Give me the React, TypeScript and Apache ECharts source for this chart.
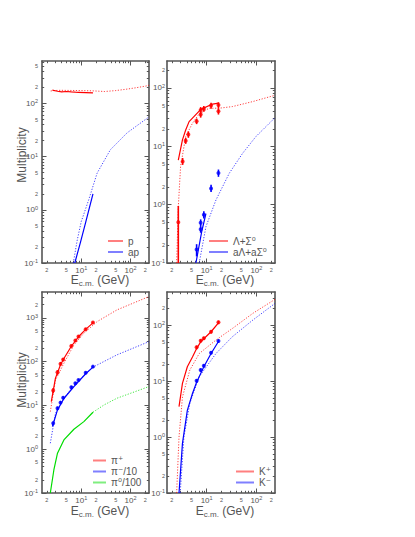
import React, { useEffect, useRef } from 'react';
import * as echarts from 'echarts';

const L = Math.log10;

// ---------- data ----------
// top-left: protons / antiprotons
const pSolidX = [2.6, 3.3, 4.0, 5.0, 6.3, 7.6, 8.8, 12.3, 17.3];
const pSolidY = [178, 170, 165, 168, 165, 163, 162, 160, 158];
const pDotX = [2.4, 3, 4, 6, 10, 17, 30, 50, 80, 130, 200, 237];
const pDotY = [172, 176, 177, 176, 175, 173, 168, 175, 185, 198, 212, 220];
const apSolidX = [7.4, 9.7, 12.3, 17.3];
const apSolidY = [0.1, 0.25, 0.58, 2.0];
const apDotX = [6.9, 8.3, 10, 14.2, 21, 39, 85, 237];
const apDotY = [0.1, 0.27, 0.6, 1.55, 4.9, 13.5, 28, 56];

// top-right: Lambda + Sigma0
const lamSolidX = [2.7, 3.27, 3.8, 4.45, 7.66, 13.2, 17.3];
const lamSolidY = [5.8, 12.9, 19, 26.5, 43, 53, 55];
const lamDotX = [2.5, 2.7, 3.0, 3.8, 5.2, 7.1, 11.2, 18, 33, 85, 237];
const lamDotY = [0.1, 0.92, 4.5, 14.7, 24.9, 36, 45, 45, 48, 58.5, 75];
const alamSolidX = [6.1, 8, 9.7];
const alamSolidY = [0.1, 0.35, 0.7];
const alamDotX = [7.1, 9.7, 15.4, 28.6, 53, 98, 214, 237];
const alamDotY = [0.1, 0.42, 1.2, 3.46, 7.6, 14.7, 28.4, 31];
const lamPtX = [2.7, 3.3, 3.8, 4.3, 6.3, 7.6, 7.6, 8.8, 12.3, 17.3, 17.3];
const lamPtY = [0.5, 5.5, 12.5, 16, 27, 35, 42, 44, 50, 51, 40];
const lamPtLo = [0.05, 4.8, 11, 14, 24, 31, 37, 39, 44, 45, 35];
const lamPtHi = [0.95, 6.3, 14, 18, 30, 39, 47, 49, 56, 57, 45];
const alamPtX = [6.3, 7.6, 7.6, 8.8, 12.3, 17.3];
const alamPtY = [0.17, 0.38, 0.49, 0.67, 1.9, 3.5];
const alamPtLo = [0.13, 0.33, 0.43, 0.58, 1.65, 3.0];
const alamPtHi = [0.21, 0.43, 0.56, 0.77, 2.2, 4.0];

// bottom-left: pions
const piPtX = [2.7, 3.3, 3.8, 4.3, 6.3, 7.6, 8.8, 12.3, 17.3];
const piPY = [22, 57, 89, 112, 229, 303, 374, 551, 781];
const piPLo = [19, 50, 80, 102, 212, 282, 350, 515, 735];
const piPHi = [25, 64, 98, 122, 246, 325, 400, 590, 830];
const piPSolidX = [2.47, 3.0, 3.8, 4.45, 6.3, 8.8, 12.3, 17.3];
const piPSolidY = [12.2, 42, 85, 118, 225, 370, 545, 770];
const piPDotX = [2.36, 3.0, 4.45, 7.1, 11.3, 21, 53, 237];
const piPDotY = [7.2, 38, 92, 241, 447, 822, 1520, 3070];
const piMY = [3.9, 8.6, 11.6, 15, 26, 32, 38, 56, 77];
const piMLo = [3.5, 7.8, 10.6, 13.8, 24, 30, 35.5, 52, 72];
const piMHi = [4.3, 9.4, 12.6, 16.2, 28, 34, 40.5, 60, 82];
const piMSolidX = [2.6, 3.3, 4.45, 7.1, 12.3, 17.3];
const piMSolidY = [3.3, 7.9, 14.4, 27, 53, 75];
const piMDotX = [2.36, 3.0, 4.45, 7.1, 17.3, 53, 237];
const piMDotY = [1.37, 6.6, 14.4, 29, 75, 143, 287];
const pi0SolidX = [2.36, 2.79, 3.3, 4.45, 7.1, 11.3, 17.3];
const pi0SolidY = [0.1, 0.34, 0.81, 1.63, 2.86, 4.27, 7.0];
const pi0DotX = [17.3, 29.6, 53, 237];
const pi0DotY = [7.0, 10.4, 14.6, 27];

// bottom-right: kaons
const kPtX = [6.3, 7.6, 8.8, 12.3, 17.3];
const kPY = [40, 52.5, 58, 76, 112];
const kPLo = [37, 49, 54, 71, 104];
const kPHi = [43, 56, 62, 81, 120];
const kMY = [10.1, 15.7, 18.7, 32, 52];
const kMLo = [9.4, 14.6, 17.4, 30, 48.5];
const kMHi = [10.8, 16.8, 20, 34, 55.5];
const kPSolidX = [2.79, 3.27, 4.1, 5.2, 6.3, 7.6, 8.8, 12.3, 17.3];
const kPSolidY = [3.5, 9.1, 18, 27, 38, 50, 57, 76, 110];
const kPDotX = [2.5, 2.79, 3.27, 4.6, 7.1, 15.4, 33, 85, 237];
const kPDotY = [0.1, 1.0, 5.2, 15.7, 31, 54, 87, 162, 288];
const kMSolidX = [2.79, 3.27, 4.1, 5.2, 6.3, 8.8, 12.3, 17.3];
const kMSolidY = [0.1, 0.77, 3.0, 6.0, 9.5, 18, 31, 51];
const kMDotX = [2.95, 3.5, 4.6, 7.1, 15.4, 33, 85, 237];
const kMDotY = [0.1, 1.0, 4.0, 12, 31, 62, 123, 244];

// axes
const X_RANGE = [1.6, 237];
const Y_MIN = 0.1;
const Y_MAX = [630, 290, 3900, 390];
const MAJOR_K = [1];
const MINOR_K = [2, 3, 4, 5, 6, 7, 8, 9];
const LABEL_K = [1, 2, 5];

// legends
const legendNames = [
  ['p', 'ap'],
  ['Λ+Σ⁰', 'aΛ+aΣ⁰'],
  ['π⁺', 'π⁻/10', 'π⁰/100'],
  ['K⁺', 'K⁻'],
];
const xTitle = 'E';
const xTitleSub = 'c.m.';
const xTitleRest = ' (GeV)';
const yTitle = 'Multiplicity';

// ---------- style ----------
const FONT = '"Liberation Sans", "DejaVu Sans", sans-serif';
const AX = '#555';
const TXT = '#555';
const RED = '#ff0000';
const BLUE = '#0000ff';
const GREEN = '#00dd00';

const grids = [
  { left: 42, top: 61, width: 107, height: 202 },
  { left: 167, top: 61, width: 108, height: 202 },
  { left: 42, top: 292, width: 107, height: 201 },
  { left: 167, top: 292, width: 108, height: 201 },
];
const yLabelMargin = [4, 2, 4, 2];

function logTicks(lo: number, hi: number, ks: number[]) {
  const out: number[] = [];
  for (let n = Math.floor(lo) - 1; n <= Math.ceil(hi); n++) {
    for (const k of ks) {
      const v = n + (k === 1 ? 0 : Math.log10(k));
      if (v >= lo - 1e-9 && v <= hi + 1e-9) out.push(v);
    }
  }
  return out;
}

function fmt(v: number) {
  const n = Math.round(v);
  if (Math.abs(v - n) < 1e-6) return `{a|10}{b|${n}}`;
  const fl = Math.floor(v + 1e-9);
  const k = Math.round(Math.pow(10, v - fl));
  return `{c|${k}}`;
}

const rich = {
  a: { fontSize: 8, color: TXT, fontFamily: FONT, lineHeight: 10 },
  b: { fontSize: 5.5, color: TXT, fontFamily: FONT, verticalAlign: 'top', lineHeight: 6 },
  c: { fontSize: 5.5, color: TXT, fontFamily: FONT, lineHeight: 10 },
};

function mkAxis(gridIndex: number, position: string, min: number, max: number,
  ticks: number[], len: number, labels: number[] | null, line: boolean, margin: number) {
  return {
    type: 'value', gridIndex, position, min, max,
    axisLine: { show: line, onZero: false, lineStyle: { color: AX, width: 1.6 } },
    axisTick: { show: true, inside: true, length: len, customValues: ticks, lineStyle: { color: AX, width: 1 } },
    axisLabel: labels
      ? { show: true, customValues: labels, formatter: fmt, margin, rich, color: TXT, hideOverlap: false }
      : { show: false },
    splitLine: { show: false },
    minorTick: { show: false },
    minorSplitLine: { show: false },
    axisPointer: { show: false },
  };
}

function lineS(name: string | undefined, xs: number[], ys: number[], panel: number, color: string, dotted: boolean) {
  return {
    type: 'line', name, xAxisIndex: 4 * panel, yAxisIndex: 4 * panel,
    data: xs.map((x, j) => [L(x), L(ys[j])]),
    symbol: 'none', showSymbol: false, silent: true, z: dotted ? 2 : 3,
    color,
    lineStyle: { color, width: dotted ? 1 : 1.2, type: dotted ? [1.2, 1.6] : 'solid', opacity: dotted ? 0.75 : 1 },
    itemStyle: { color },
  };
}

function pointsS(xs: number[], ys: number[], lo: number[], hi: number[], panel: number, color: string) {
  return [
    {
      type: 'custom', xAxisIndex: 4 * panel, yAxisIndex: 4 * panel, silent: true, z: 4, clip: true,
      data: xs.map((x, j) => [L(x), L(ys[j]), L(lo[j]), L(hi[j])]),
      itemStyle: { color },
      renderItem: (params: any, api: any) => {
        const p1 = api.coord([api.value(0), api.value(2)]);
        const p2 = api.coord([api.value(0), api.value(3)]);
        return {
          type: 'line',
          shape: { x1: p1[0], y1: p1[1], x2: p2[0], y2: p2[1] },
          style: { stroke: color, lineWidth: 1.6 },
        };
      },
    },
    {
      type: 'scatter', xAxisIndex: 4 * panel, yAxisIndex: 4 * panel, silent: true, z: 5,
      data: xs.map((x, j) => [L(x), L(ys[j])]),
      symbol: 'circle', symbolSize: 4, itemStyle: { color },
    },
  ];
}

function buildOption() {
  const xAxis: any[] = [];
  const yAxis: any[] = [];
  grids.forEach((g, i) => {
    const xmin = L(X_RANGE[0]), xmax = L(X_RANGE[1]);
    const ymin = L(Y_MIN), ymax = L(Y_MAX[i]);
    const xMaj = logTicks(xmin, xmax, MAJOR_K);
    const xMin = logTicks(xmin, xmax, MINOR_K);
    const xLab = logTicks(xmin, xmax, LABEL_K);
    const yMaj = logTicks(ymin, ymax, MAJOR_K);
    const yMin = logTicks(ymin, ymax, MINOR_K);
    const yLab = logTicks(ymin, ymax, LABEL_K);
    xAxis.push(mkAxis(i, 'bottom', xmin, xmax, xMaj, 4.5, xLab, true, 2));
    xAxis.push(mkAxis(i, 'bottom', xmin, xmax, xMin, 2.2, null, false, 0));
    xAxis.push(mkAxis(i, 'top', xmin, xmax, xMaj, 4.5, null, true, 0));
    xAxis.push(mkAxis(i, 'top', xmin, xmax, xMin, 2.2, null, false, 0));
    yAxis.push(mkAxis(i, 'left', ymin, ymax, yMaj, 4.5, yLab, true, yLabelMargin[i]));
    yAxis.push(mkAxis(i, 'left', ymin, ymax, yMin, 2.2, null, false, 0));
    yAxis.push(mkAxis(i, 'right', ymin, ymax, yMaj, 4.5, null, true, 0));
    yAxis.push(mkAxis(i, 'right', ymin, ymax, yMin, 2.2, null, false, 0));
  });

  const series: any[] = [
    lineS('p', pSolidX, pSolidY, 0, RED, false),
    lineS('p', pDotX, pDotY, 0, RED, true),
    lineS('ap', apSolidX, apSolidY, 0, BLUE, false),
    lineS('ap', apDotX, apDotY, 0, BLUE, true),

    lineS('Λ+Σ⁰', lamSolidX, lamSolidY, 1, RED, false),
    lineS('Λ+Σ⁰', lamDotX, lamDotY, 1, RED, true),
    lineS('aΛ+aΣ⁰', alamSolidX, alamSolidY, 1, BLUE, false),
    lineS('aΛ+aΣ⁰', alamDotX, alamDotY, 1, BLUE, true),
    ...pointsS(lamPtX, lamPtY, lamPtLo, lamPtHi, 1, RED),
    ...pointsS(alamPtX, alamPtY, alamPtLo, alamPtHi, 1, BLUE),

    lineS('π⁺', piPSolidX, piPSolidY, 2, RED, false),
    lineS('π⁺', piPDotX, piPDotY, 2, RED, true),
    lineS('π⁻/10', piMSolidX, piMSolidY, 2, BLUE, false),
    lineS('π⁻/10', piMDotX, piMDotY, 2, BLUE, true),
    lineS('π⁰/100', pi0SolidX, pi0SolidY, 2, GREEN, false),
    lineS('π⁰/100', pi0DotX, pi0DotY, 2, GREEN, true),
    ...pointsS(piPtX, piPY, piPLo, piPHi, 2, RED),
    ...pointsS(piPtX, piMY, piMLo, piMHi, 2, BLUE),

    lineS('K⁺', kPSolidX, kPSolidY, 3, RED, false),
    lineS('K⁺', kPDotX, kPDotY, 3, RED, true),
    lineS('K⁻', kMSolidX, kMSolidY, 3, BLUE, false),
    lineS('K⁻', kMDotX, kMDotY, 3, BLUE, true),
    ...pointsS(kPtX, kPY, kPLo, kPHi, 3, RED),
    ...pointsS(kPtX, kMY, kMLo, kMHi, 3, BLUE),
  ];

  const legendPos = [
    { left: 107, top: 235.5, w: 15 },
    { left: 208, top: 235.5, w: 19 },
    { left: 92, top: 455, w: 13 },
    { left: 235, top: 466, w: 18 },
  ];
  const legend = legendNames.map((names, i) => ({
    data: names,
    left: legendPos[i].left,
    top: legendPos[i].top,
    orient: 'vertical',
    itemWidth: legendPos[i].w,
    itemHeight: 8,
    itemGap: 0,
    padding: 0,
    selectedMode: false,
    itemStyle: { opacity: 0 },
    lineStyle: { width: 2, type: 'solid', opacity: 0.5 },
    textStyle: { fontSize: 10, color: TXT, fontFamily: FONT, lineHeight: 11 },
  }));

  const titleRich = {
    a: { fontSize: 12, fill: TXT, fontFamily: FONT, lineHeight: 14 },
    b: { fontSize: 8, fill: TXT, fontFamily: FONT, verticalAlign: 'bottom', lineHeight: 10 },
  };
  const xTitles = [[100, 280], [225, 280], [100, 511], [225, 511]];
  const graphic: any[] = xTitles.map(([x, y]) => ({
    type: 'text', x, y, silent: true,
    style: {
      text: `{a|${xTitle}}{b|${xTitleSub}}{a|${xTitleRest}}`,
      rich: titleRich, align: 'center', verticalAlign: 'middle', fill: TXT,
    },
  }));
  [[22, 155], [22, 380]].forEach(([x, y]) => {
    graphic.push({
      type: 'text', x, y, rotation: Math.PI / 2, silent: true,
      style: { text: yTitle, fontSize: 12, fontFamily: FONT, fill: TXT, align: 'center', verticalAlign: 'middle' },
    });
  });

  return {
    animation: false,
    backgroundColor: '#ffffff',
    textStyle: { fontFamily: FONT },
    grid: grids.map((g) => ({ ...g, containLabel: false, outerBoundsMode: 'none' })),
    xAxis,
    yAxis,
    legend,
    series,
    graphic,
  };
}

export default function App() {
  const ref = useRef<HTMLDivElement>(null);
  useEffect(() => {
    if (!ref.current) return;
    const chart = echarts.init(ref.current, undefined, { renderer: 'svg' });
    chart.setOption(buildOption() as any);
    return () => chart.dispose();
  }, []);
  return (
    <div
      ref={ref}
      style={{ position: 'absolute', left: 0, top: 0, width: 415, height: 537, background: '#fff' }}
    />
  );
}
